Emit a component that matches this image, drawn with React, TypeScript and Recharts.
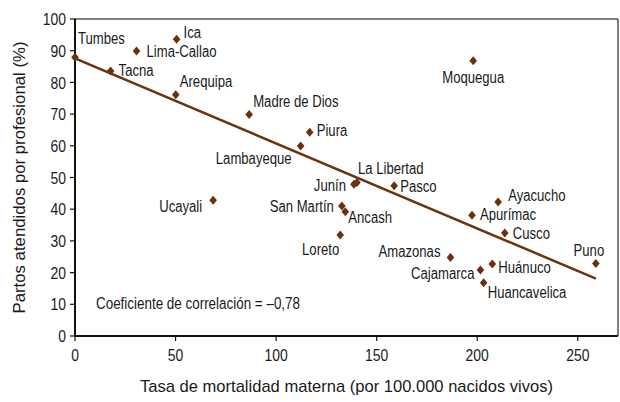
import React from "react";
import { ScatterChart, Scatter, XAxis, YAxis, ReferenceLine } from "recharts";

const regions = [
  "Tumbes", "Tacna", "Lima-Callao", "Ica", "Arequipa", "Madre de Dios", "Piura", "Lambayeque",
  "Moquegua", "Junín", "La Libertad", "Pasco", "Ucayali", "San Martín", "Ancash", "Loreto",
  "Ayacucho", "Apurímac", "Cusco", "Amazonas", "Cajamarca", "Huánuco", "Huancavelica", "Puno",
];
const mortality = [
  0, 17.7, 30.6, 50.5, 50.1, 86.6, 116.7, 112.2,
  198, 138.7, 140.2, 158.7, 68.7, 132.7, 134.4, 131.9,
  210.4, 197.4, 213.7, 186.7, 201.6, 207.5, 203.2, 259,
];
const attended = [
  87.9, 83.6, 89.9, 93.6, 76.1, 69.9, 64.3, 59.9,
  86.8, 47.9, 48.4, 47.4, 42.8, 41, 39.2, 31.9,
  42.3, 38.1, 32.5, 24.8, 20.8, 22.7, 16.8, 22.9,
];
const trendX = [0, 259];
const trendY = [87.6, 18.1];
const xTicks = [0, 50, 100, 150, 200, 250];
const yTicks = [0, 10, 20, 30, 40, 50, 60, 70, 80, 90, 100];
const xTitle = "Tasa de mortalidad materna (por 100.000 nacidos vivos)";
const yTitle = "Partos atendidos por profesional (%)";
const corrText = "Coeficiente de correlación = –0,78";

// label placement (style only): dx, dy, anchor
const labelPlace: Record<string, [number, number, string]> = {
  "Tumbes": [3, -19, "start"],
  "Tacna": [8, -1, "start"],
  "Lima-Callao": [10, 0, "start"],
  "Ica": [7, -7, "start"],
  "Arequipa": [4, -14, "start"],
  "Madre de Dios": [4, -13, "start"],
  "Piura": [7, -2, "start"],
  "Lambayeque": [-9, 12, "end"],
  "Moquegua": [0, 16, "middle"],
  "Junín": [-8, 1, "end"],
  "La Libertad": [1, -14, "start"],
  "Pasco": [6, 0, "start"],
  "Ucayali": [-11, 6, "end"],
  "San Martín": [-8, 0, "end"],
  "Ancash": [3, 5, "start"],
  "Loreto": [-1, 14, "end"],
  "Ayacucho": [10, -7, "start"],
  "Apurímac": [8, -1, "start"],
  "Cusco": [8, 0, "start"],
  "Amazonas": [-10, -6, "end"],
  "Cajamarca": [-6, 3, "end"],
  "Huánuco": [6, 3, "start"],
  "Huancavelica": [4, 9, "start"],
  "Puno": [-7, -13, "middle"],
};

const points = regions.map((name, i) => ({ name, x: mortality[i], y: attended[i] }));
const trend = trendX.map((x, i) => ({ x, y: trendY[i] }));

const FONT = "'Liberation Sans', Arial, sans-serif";
const MARK = "#6b300e";
const TXT = "#1a1a1a";

const NText = ({ x, y, anchor = "start", size = 16, dy = "0.36em", rotate = 0, children }: any) => (
  <text
    transform={`translate(${x},${y}) rotate(${rotate}) scale(0.82,1)`}
    x={0}
    y={0}
    dy={dy}
    textAnchor={anchor}
    fontFamily={FONT}
    fontSize={size}
    fill={TXT}
  >
    {children}
  </text>
);

const XTick = (props: any) => {
  const { x, y, payload } = props;
  return <NText x={x} y={y} dy="0.71em" anchor="middle" size={17}>{payload.value}</NText>;
};
const YTick = (props: any) => {
  const { x, y, payload } = props;
  return <NText x={x} y={y} dy="0.36em" anchor="end" size={17}>{payload.value}</NText>;
};

const Diamond = (props: any) => {
  const { cx, cy, payload } = props;
  if (cx == null || cy == null) return <g />;
  const p = labelPlace[payload.name] || [6, 0, "start"];
  return (
    <g>
      <path d={`M${cx},${cy - 4.5} L${cx + 3.8},${cy} L${cx},${cy + 4.5} L${cx - 3.8},${cy} Z`} fill={MARK} />
      <NText x={cx + p[0]} y={cy + p[1]} anchor={p[2]} size={16}>{payload.name}</NText>
    </g>
  );
};

export default function App() {
  return (
    <div style={{ position: "absolute", left: 0, top: 0, width: 620, height: 402, background: "#fff" }}>
      <ScatterChart width={620} height={402} margin={{ top: 19, right: 2, bottom: 0, left: 0 }}>
        <XAxis
          type="number"
          dataKey="x"
          domain={[0, 270]}
          ticks={xTicks}
          interval={0}
          tickSize={5}
          tickMargin={8}
          height={66}
          axisLine={{ stroke: "#111", strokeWidth: 2 }}
          tickLine={{ stroke: "#111", strokeWidth: 1.2 }}
          tick={<XTick />}
          label={(lp: any) => {
            const vb = lp.viewBox || {};
            const cx = (vb.x ?? 75) + (vb.width ?? 543) / 2;
            return (
              <text
                x={cx}
                y={386}
                dy="0.36em"
                textAnchor="middle"
                fontFamily={FONT}
                fontSize={17}
                fill={TXT}
                textLength={413}
                lengthAdjust="spacingAndGlyphs"
              >
                {xTitle}
              </text>
            );
          }}
        />
        <YAxis
          type="number"
          dataKey="y"
          domain={[0, 100]}
          ticks={yTicks}
          interval={0}
          width={75}
          tickSize={5}
          tickMargin={4}
          axisLine={{ stroke: "#111", strokeWidth: 2 }}
          tickLine={{ stroke: "#111", strokeWidth: 1.2 }}
          tick={<YTick />}
          label={(lp: any) => {
            const vb = lp.viewBox || {};
            const cy = (vb.y ?? 19) + (vb.height ?? 317) / 2;
            return (
              <text
                transform={`translate(19,${cy}) rotate(-90)`}
                x={0}
                y={0}
                dy="0.36em"
                textAnchor="middle"
                fontFamily={FONT}
                fontSize={17}
                fill={TXT}
                textLength={272}
                lengthAdjust="spacingAndGlyphs"
              >
                {yTitle}
              </text>
            );
          }}
        />
        <ReferenceLine y={100} stroke="#555" strokeWidth={1.5} />
        <ReferenceLine x={270} stroke="#555" strokeWidth={1.5} />
        <Scatter
          data={trend}
          line={{ stroke: "#6b3410", strokeWidth: 2.5 }}
          shape={() => <g />}
          isAnimationActive={false}
        />
        <Scatter data={points} shape={Diamond} isAnimationActive={false} />
      </ScatterChart>
      <svg width={620} height={402} style={{ position: "absolute", left: 0, top: 0, pointerEvents: "none" }}>
        <text
          x={96}
          y={303}
          dy="0.36em"
          fontFamily={FONT}
          fontSize={16}
          fill={TXT}
          textLength={204}
          lengthAdjust="spacingAndGlyphs"
        >
          {corrText}
        </text>
      </svg>
    </div>
  );
}
